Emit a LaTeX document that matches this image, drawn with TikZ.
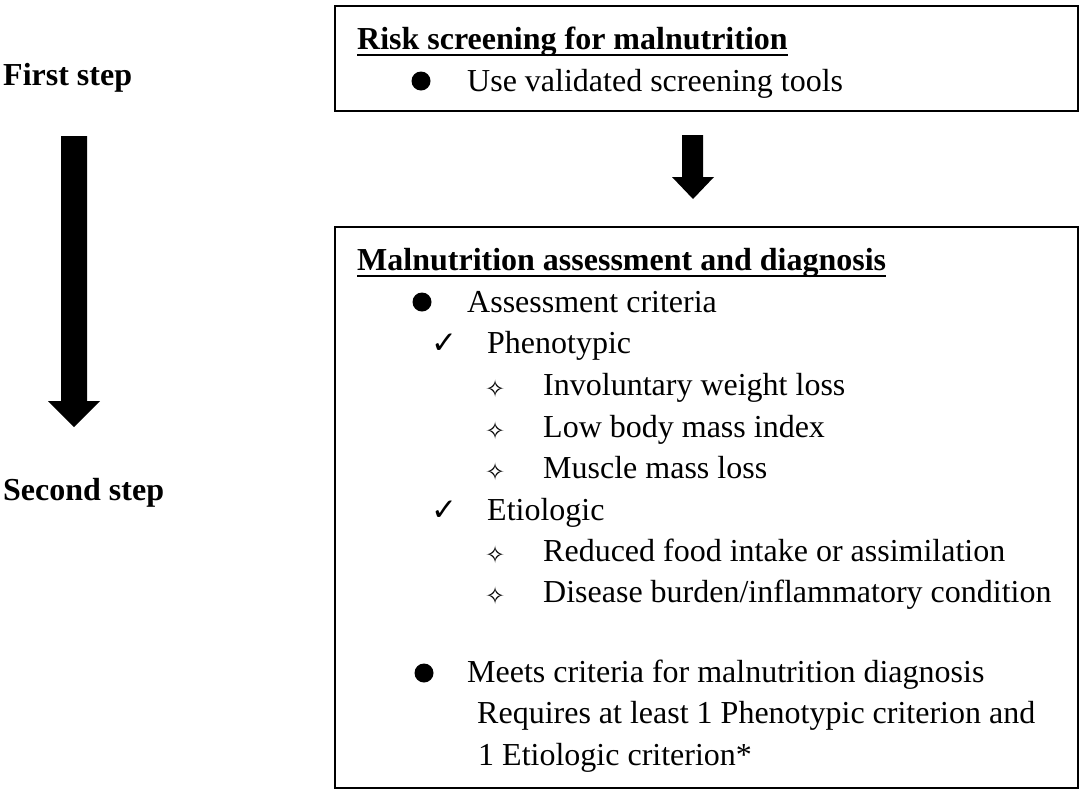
\documentclass[tikz,border=0pt]{standalone}
\usepackage{fontspec}
\setmainfont{Liberation Serif}
\newfontfamily\symfont{DejaVu Sans}
\begin{document}
\begin{tikzpicture}[x=1pt,y=-1pt,
  txt/.style={anchor=base west,inner sep=0pt,font=\fontsize{32}{38}\selectfont},
  bld/.style={txt,font=\fontsize{32}{38}\selectfont\bfseries},
  boxframe/.style={draw,line width=2pt,anchor=north west,inner sep=0pt},
  bul/.style={circle,fill=black,inner sep=0pt,minimum size=19pt},
  chk/.style={anchor=base west,inner sep=0pt,font=\symfont\fontsize{31}{34}\selectfont},
  star/.style={anchor=base west,inner sep=0pt,font=\symfont\fontsize{24}{28}\selectfont},
  ul/.style={line width=2pt},
  blockarrow/.style={fill=black}]
\useasboundingbox (0,0) rectangle (1084,793);
% boxes
\node (box1) [boxframe,minimum width=743pt,minimum height=105pt] at (334,5) {};
\node (box2) [boxframe,minimum width=743pt,minimum height=561pt] at (334,226) {};
% block arrows
\fill[blockarrow] (682,135) -- (703,135) -- (703,177) -- (714,177) -- (693,199) -- (672,177) -- (682,177) -- cycle;
\fill[blockarrow] (61,136) -- (87,136) -- (87,401) -- (100,401) -- (74,427) -- (48,401) -- (61,401) -- cycle;
% left labels
\node (first) [bld] at (3,85) {First step};
\node (second) [bld] at (3,500) {Second step};
% box 1
\node (t1) [bld] at (357,49) {Risk screening for malnutrition};
\draw[ul] ([yshift=-5.5pt]t1.base west) -- ([yshift=-5.5pt]t1.base east);
\node (b1) [bul] at (421,81) {};
\node (u1) [txt] at (467,91) {Use validated screening tools};
% box 2
\node (t2) [bld] at (357,270) {Malnutrition assessment and diagnosis};
\draw[ul] ([yshift=-5.5pt]t2.base west) -- ([yshift=-5.5pt]t2.base east);
\node (b2) [bul] at (422,302) {};
\node (a1) [txt] at (467,312) {Assessment criteria};
\node (c1) [chk] at (431,353) {✓};
\node (p1) [txt] at (487,353) {Phenotypic};
\node (s1) [star] at (485,397) {✧};
\node (p2) [txt] at (543,395) {Involuntary weight loss};
\node (s2) [star] at (485,439) {✧};
\node (p3) [txt] at (543,437) {Low body mass index};
\node (s3) [star] at (485,480) {✧};
\node (p4) [txt] at (543,478) {Muscle mass loss};
\node (c2) [chk] at (431,520) {✓};
\node (e1) [txt] at (487,520) {Etiologic};
\node (s4) [star] at (485,563) {✧};
\node (e2) [txt] at (543,561) {Reduced food intake or assimilation};
\node (s5) [star] at (485,604) {✧};
\node (e3) [txt] at (543,602) {Disease burden/inflammatory condition};
\node (b3) [bul] at (424,673) {};
\node (m1) [txt] at (467,682) {Meets criteria for malnutrition diagnosis};
\node (m2) [txt] at (477,723) {Requires at least 1 Phenotypic criterion and};
\node (m3) [txt] at (478,765) {1 Etiologic criterion*};
\end{tikzpicture}
\end{document}
